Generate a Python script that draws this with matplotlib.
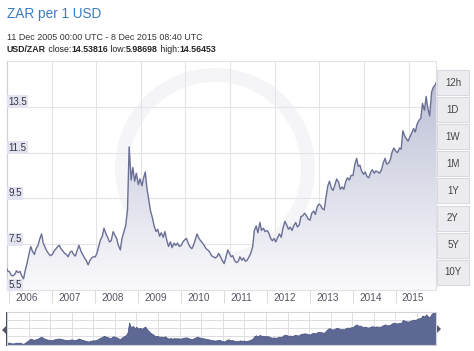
import numpy as np
import pandas as pd
import matplotlib
matplotlib.use("Agg")
import matplotlib.pyplot as plt
import matplotlib.dates as mdates
from matplotlib.colors import LinearSegmentedColormap
from matplotlib.patches import Rectangle, Wedge, Polygon
from matplotlib.transforms import ScaledTranslation

plt.rcParams['font.family'] = ['Liberation Sans', 'DejaVu Sans']

# =========================
# DATA (USD/ZAR, twice a month)
# =========================
head_dates = ["2005-12-11", "2005-12-15"]
dec_2005 = [6.42, 6.33]

usdzar_2006 = [6.30, 6.15, 6.12, 6.18, 6.34, 6.26, 6.31, 6.12, 5.99, 6.35, 6.70, 7.05,
               7.40, 7.20, 7.05, 7.30, 7.45, 7.72, 7.95, 7.55, 7.35, 7.20, 7.08, 7.00]
usdzar_2007 = [7.05, 7.20, 7.30, 7.40, 7.45, 7.30, 7.20, 7.10, 7.05, 6.95, 7.15, 7.20,
               7.05, 6.98, 7.25, 7.45, 7.20, 7.05, 6.90, 6.80, 6.60, 6.78, 6.90, 6.95]
usdzar_2008 = [6.95, 7.10, 7.45, 7.70, 7.85, 8.20, 7.95, 7.80, 7.60, 7.65, 8.05, 7.90,
               7.75, 7.45, 7.25, 7.75, 8.05, 8.30, 9.00, 11.75, 10.30, 10.85, 10.25, 10.60]
usdzar_2009 = [10.10, 10.35, 10.05, 10.40, 10.65, 9.95, 9.40, 8.95, 8.65, 8.30, 8.05, 8.15,
               7.85, 8.00, 7.80, 8.05, 7.65, 7.40, 7.60, 7.35, 7.55, 7.45, 7.55, 7.40]
usdzar_2010 = [7.45, 7.60, 7.70, 7.75, 7.55, 7.40, 7.30, 7.45, 7.70, 7.95, 7.75, 7.65,
               7.55, 7.45, 7.30, 7.25, 7.15, 7.00, 6.95, 6.90, 6.95, 7.10, 6.95, 6.80]
usdzar_2011 = [6.65, 6.90, 7.25, 7.10, 6.95, 7.00, 6.78, 6.70, 6.75, 6.95, 6.80, 6.90,
               6.75, 6.80, 6.95, 7.10, 7.40, 8.10, 8.30, 8.00, 8.45, 8.10, 8.20, 8.05]
usdzar_2012 = [8.10, 8.00, 7.75, 7.65, 7.75, 7.60, 7.80, 7.95, 7.80, 8.20, 8.50, 8.35,
               8.15, 8.25, 8.10, 8.30, 8.45, 8.25, 8.35, 8.70, 8.75, 8.85, 8.75, 8.60]
usdzar_2013 = [8.55, 8.85, 8.95, 8.80, 9.10, 9.25, 9.20, 9.05, 9.00, 9.50, 10.05, 10.25,
               9.95, 9.85, 10.10, 10.35, 10.20, 9.90, 10.00, 9.90, 10.25, 10.40, 10.30, 10.50]
usdzar_2014 = [10.50, 10.95, 11.25, 10.90, 10.95, 10.70, 10.55, 10.65, 10.45, 10.40, 10.65, 10.75,
               10.60, 10.70, 10.65, 10.60, 10.75, 11.05, 11.25, 11.00, 11.05, 11.20, 11.55, 11.70]
usdzar_2015 = [11.55, 11.50, 11.70, 11.65, 12.45, 12.25, 12.10, 12.00, 12.20, 12.35, 12.55, 12.40,
               12.75, 12.90, 13.00, 13.65, 13.35, 13.95, 13.40, 13.10, 14.15, 14.35, 14.45]
tail_date = "2015-12-08"
close_value = [14.54]

header_range = "11 Dec 2005 00:00 UTC - 8 Dec 2015 08:40 UTC"
stat_close = "14.53816"
stat_low = "5.98698"
stat_high = "14.56453"

year_labels = ["2006", "2007", "2008", "2009", "2010", "2011", "2012", "2013", "2014", "2015"]
y_ticks = [5.5, 7.5, 9.5, 11.5, 13.5]
range_buttons = ["12h", "1D", "1W", "1M", "1Y", "2Y", "5Y", "10Y"]

# =========================
# BUILD SERIES
# =========================
mid_dates = pd.date_range("2006-01-01", "2015-12-01", freq="SMS")
dates = pd.to_datetime(head_dates + list(mid_dates) + [tail_date])
values = (dec_2005 + usdzar_2006 + usdzar_2007 + usdzar_2008 + usdzar_2009 + usdzar_2010
          + usdzar_2011 + usdzar_2012 + usdzar_2013 + usdzar_2014 + usdzar_2015 + close_value)
assert len(dates) == len(values)
values = np.array(values)
xnum = mdates.date2num(dates)

W, H = 474, 351
fig = plt.figure(figsize=(W / 100, H / 100), dpi=100)
fig.patch.set_facecolor("white")

# background axes in pixel coords
ax_bg = fig.add_axes([0, 0, 1, 1])
ax_bg.set_xlim(0, W)
ax_bg.set_ylim(H, 0)
ax_bg.axis("off")
ax_bg.set_zorder(0)

# faint logo ring behind the chart
ax_bg.add_patch(Wedge((215, 168), 100, 0, 360, width=14, facecolor="#f5f5f8",
                      edgecolor="none", zorder=0))

# =========================
# MAIN CHART
# =========================
def frac_box(x0, y0, x1, y1):
    return [x0 / W, 1 - y1 / H, (x1 - x0) / W, (y1 - y0) / H]

ax = fig.add_axes(frac_box(7, 61, 436, 290))
ax.set_zorder(1)
ax.patch.set_alpha(0)

ylo, yhi = 5.5, 15.5

# gradient fill under the line
fill = ax.fill_between(xnum, values, ylo, facecolor="none", edgecolor="none")
cmap = LinearSegmentedColormap.from_list("zar", ["#fafafc", "#b7bbd3"])
grad = ax.imshow(np.linspace(1, 0, 256).reshape(-1, 1), cmap=cmap, aspect="auto",
                 extent=[xnum[0], xnum[-1], ylo, yhi], origin="upper", zorder=1)
grad.set_clip_path(fill.get_paths()[0], transform=ax.transData)
ax.plot(xnum, values, color="#6a6f96", linewidth=1.0, zorder=3)
ax.set_xlim(xnum[0], xnum[-1])
ax.set_ylim(ylo, yhi)

# grid
for yv in y_ticks[1:]:
    ax.axhline(yv, color="#e4e4e8", linewidth=0.8, zorder=0.5)
for k in range(1, 10):
    ax.axvline(k * 0.104 * (xnum[-1] - xnum[0]) + xnum[0], color="#e4e4e8",
               linewidth=0.8, zorder=0.5)

for side in ["top", "right", "bottom"]:
    ax.spines[side].set_color("#e2e2e6")
    ax.spines[side].set_linewidth(0.8)
ax.spines["left"].set_color("#d0d0d8")
ax.spines["left"].set_linewidth(0.9)

ax.set_yticks([])
for yv in y_ticks:
    ax.text(0.003, yv, f"{yv}", transform=ax.get_yaxis_transform(), ha="left", va="bottom",
            fontsize=7, color="#333344", zorder=4,
            bbox=dict(boxstyle="square,pad=0.15", facecolor="#e4e4f1", edgecolor="none"))

year_pos = mdates.date2num(pd.to_datetime([y + "-01-01" for y in year_labels]))
ax.set_xticks(year_pos)
ax.set_xticklabels(year_labels)
ax.tick_params(axis="x", length=9, width=0.8, color="#dcdcdc", direction="out",
               pad=-7, labelsize=7.2, labelcolor="#555566")
for lab in ax.get_xticklabels():
    lab.set_horizontalalignment("left")
    lab.set_transform(lab.get_transform() + ScaledTranslation(6 / 100, 0, fig.dpi_scale_trans))

# =========================
# NAVIGATOR
# =========================
nav = fig.add_axes(frac_box(7, 312, 436, 345))
nav.set_zorder(1)
nav.set_xlim(xnum[0], xnum[-1])
nav.set_ylim(5.7, 14.6)
for k in range(1, 20):
    nav.axvline(xnum[0] + k * 0.0503 * (xnum[-1] - xnum[0]), color="#dedee2", linewidth=0.7, zorder=0)
for f in [0.26, 0.52, 0.77]:
    nav.axhline(5.7 + f * (14.6 - 5.7), color="#dedee2", linewidth=0.7, zorder=0)
nav.fill_between(xnum, values, 5.7, facecolor="#5d6894", edgecolor="#4d5783",
                 linewidth=0.6, zorder=2)
nav.set_xticks([])
nav.set_yticks([])
for side in nav.spines:
    nav.spines[side].set_color("#d4d4d8")
    nav.spines[side].set_linewidth(0.8)

# navigator handles
ax_bg.add_patch(Rectangle((5.8, 311.5), 1.6, 34, facecolor="#3f4660", edgecolor="none", zorder=5))
ax_bg.add_patch(Polygon([[6, 326], [6, 334], [2, 330]], closed=True, facecolor="#555a70",
                        edgecolor="none", zorder=5))
ax_bg.add_patch(Polygon([[437, 325], [437, 333], [441, 329]], closed=True, facecolor="#555a70",
                        edgecolor="none", zorder=5))

# =========================
# HEADER TEXT AND BUTTONS
# =========================
overlay = fig.add_axes([0, 0, 1, 1])
overlay.set_xlim(0, W)
overlay.set_ylim(H, 0)
overlay.axis("off")
overlay.set_zorder(3)

overlay.text(7, 14, "ZAR per 1 USD", fontsize=9.8, color="#3a7cc4", ha="left", va="center")
overlay.text(7, 38, header_range, fontsize=6.4, color="#333333", ha="left", va="center")

parts = [("USD/ZAR", "bold"), (" close:", "normal"), (stat_close, "bold"),
         (" low:", "normal"), (stat_low, "bold"), (" high:", "normal"), (stat_high, "bold")]
t = overlay.text(7, 50, parts[0][0], fontsize=6.3, fontweight=parts[0][1], color="#222222",
                 ha="left", va="center")
for txt, w in parts[1:]:
    t = overlay.annotate(txt, xy=(1, 0), xycoords=t, ha="left", va="bottom", fontsize=6.3,
                         fontweight=w, color="#222222")

for i, b in enumerate(range_buttons):
    top = 70 + i * 27.1
    overlay.add_patch(Rectangle((437, top), 32, 25, facecolor="#ececf0", edgecolor="#d8d8de",
                                linewidth=0.8))
    overlay.text(453, top + 12.5, b, fontsize=7, color="#444444", ha="center", va="center")

fig.savefig("out.png", dpi=100)
